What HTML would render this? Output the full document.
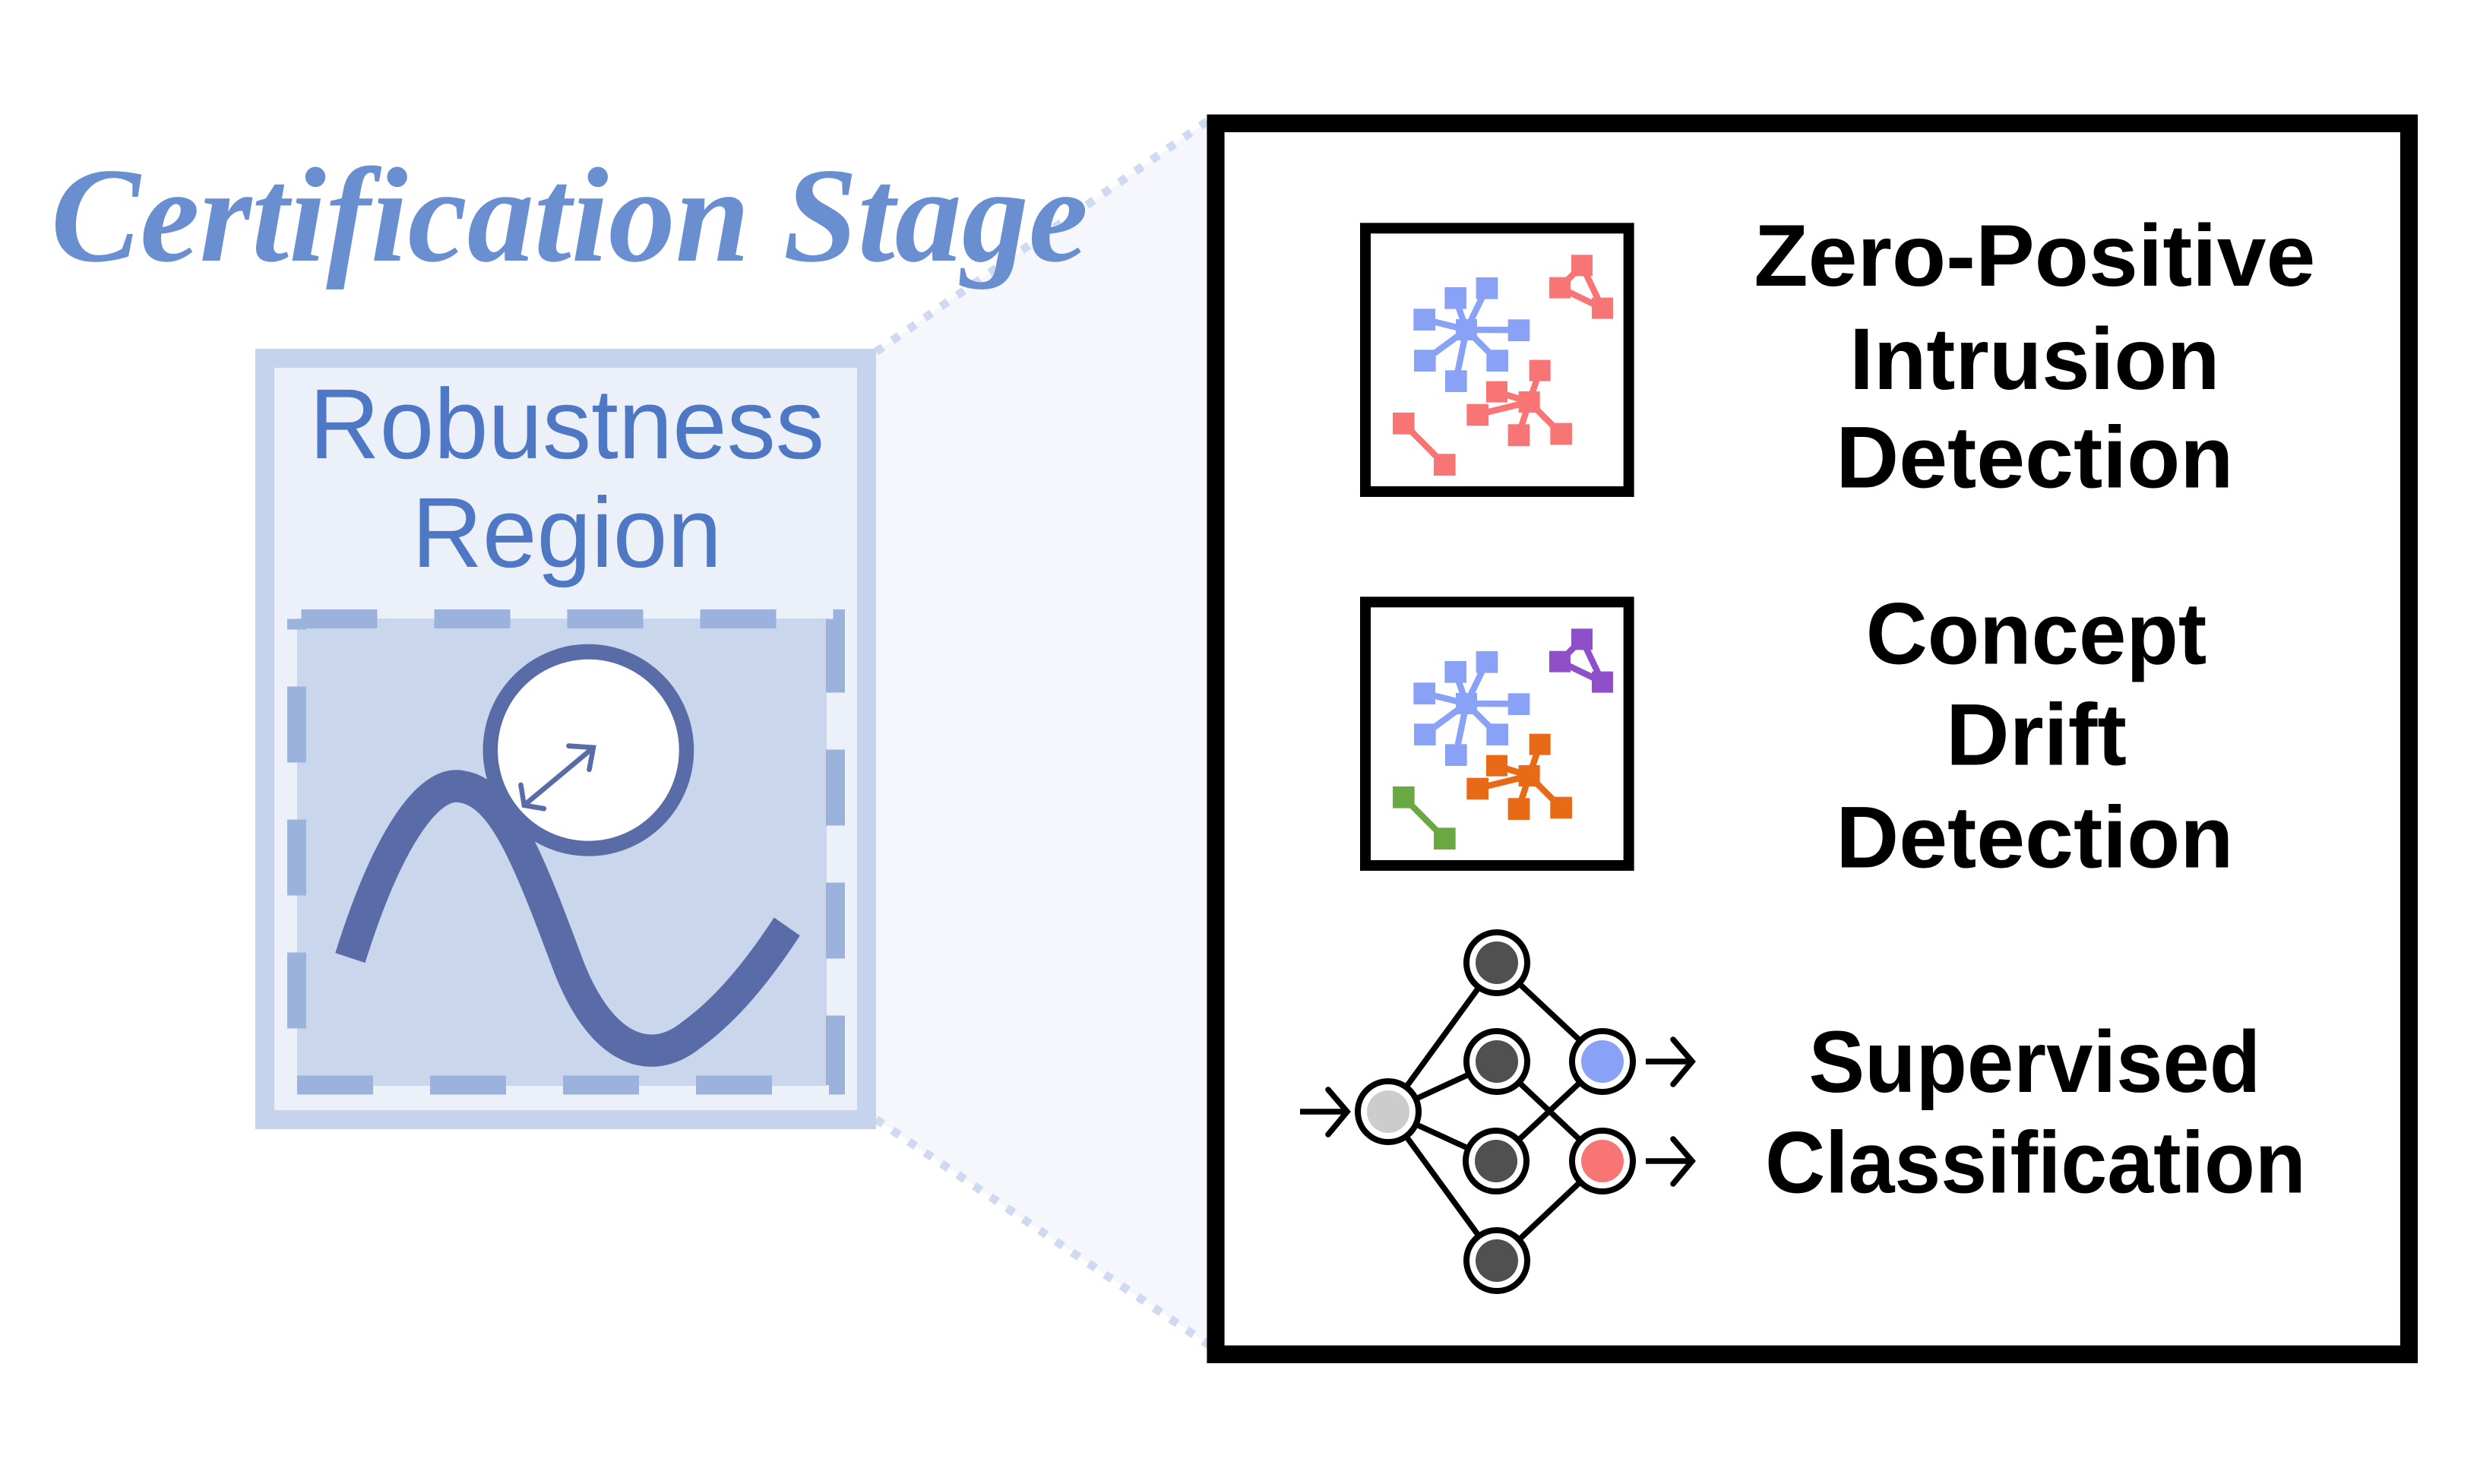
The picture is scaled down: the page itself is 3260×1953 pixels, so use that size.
<!DOCTYPE html>
<html><head><meta charset="utf-8"><style>html,body{margin:0;padding:0;background:#fff}svg{display:block}</style></head>
<body>
<svg width="3260" height="1953" viewBox="0 0 3260 1953" xmlns="http://www.w3.org/2000/svg">
<rect width="3260" height="1953" fill="#fff"/>
<polygon points="1153,463 1594,156 1594,1772 1153,1473" fill="#f5f7fc"/>
<line x1="1153" y1="463" x2="1594" y2="156" stroke="#cfdaf0" stroke-width="11" stroke-dasharray="11 15"/>
<line x1="1153" y1="1473" x2="1594" y2="1772" stroke="#cfdaf0" stroke-width="11" stroke-dasharray="11 15"/>
<text x="67" y="343" font-family="Liberation Serif, serif" font-weight="bold" font-style="italic" font-size="178" fill="#6a8fd0" textLength="1365" lengthAdjust="spacingAndGlyphs">Certification Stage</text>
<rect x="348.5" y="471.5" width="792" height="1002" fill="#ecf0f8" stroke="#c5d3ec" stroke-width="25"/>
<text x="746" y="603" text-anchor="middle" font-family="Liberation Sans, sans-serif" font-size="131" fill="#4f78c4" textLength="678" lengthAdjust="spacingAndGlyphs">Robustness</text>
<text x="746" y="746" text-anchor="middle" font-family="Liberation Sans, sans-serif" font-size="131" fill="#4f78c4" textLength="408" lengthAdjust="spacingAndGlyphs">Region</text>
<rect x="391" y="814" width="697" height="615" fill="#c9d6ec"/>
<rect x="390.5" y="814.5" width="709" height="613.5" fill="none" stroke="#9bb3dc" stroke-width="25" stroke-dasharray="100 75" stroke-dashoffset="-6"/>
<g transform="translate(0,100) scale(1.0846,1.116)">
  <path d="M425,1040 C470,900 520,830 560,838 C610,845 640,920 690,1050 C730,1150 790,1170 840,1130 C890,1095 930,1040 955,1003" fill="none" stroke="#5a6ca8" stroke-width="38"/>
  <ellipse cx="714" cy="795" rx="119" ry="116" fill="#fff" stroke="#5a6ca8" stroke-width="18"/>
  <g stroke="#5a6ca8" stroke-width="6" fill="none" stroke-linecap="round">
    <line x1="636" y1="860" x2="720" y2="792"/>
    <polyline points="690,790 720,792 715,818"/>
    <polyline points="632,836 636,860 660,864"/>
  </g>
</g>
<g transform="translate(1580,140) scale(1.0526,1.063)">
  <rect x="19" y="21" width="1492" height="1524" fill="#fff" stroke="#000" stroke-width="22"/>
  <g font-family="Liberation Sans, sans-serif" font-weight="bold" font-size="108" fill="#000" text-anchor="middle">
    <text x="1043" y="222" textLength="702" lengthAdjust="spacingAndGlyphs">Zero-Positive</text>
    <text x="1043" y="350" textLength="463" lengthAdjust="spacingAndGlyphs">Intrusion</text>
    <text x="1043" y="472" textLength="497" lengthAdjust="spacingAndGlyphs">Detection</text>
    <text x="1045" y="690" textLength="426" lengthAdjust="spacingAndGlyphs">Concept</text>
    <text x="1045" y="815" textLength="226" lengthAdjust="spacingAndGlyphs">Drift</text>
    <text x="1043" y="942" textLength="497" lengthAdjust="spacingAndGlyphs">Detection</text>
    <text x="1043" y="1220" textLength="565" lengthAdjust="spacingAndGlyphs">Supervised</text>
    <text x="1044" y="1345" textLength="676" lengthAdjust="spacingAndGlyphs">Classification</text>
  </g>
</g>
<g transform="translate(1790,290) scale(0.3333)">
  <rect x="21" y="31" width="1040" height="1040" fill="#fff" stroke="#000" stroke-width="42"/>
  <g stroke="#8aa2f5" stroke-width="25"><line x1="420" y1="432" x2="253" y2="391"/><line x1="420" y1="432" x2="376" y2="306"/><line x1="420" y1="432" x2="500" y2="267"/><line x1="420" y1="432" x2="626" y2="433"/><line x1="420" y1="432" x2="541" y2="553"/><line x1="420" y1="432" x2="255" y2="553"/><line x1="420" y1="432" x2="378" y2="634"/></g>
  <g fill="#8aa2f5"><rect x="378" y="390" width="84" height="84"/><rect x="211" y="349" width="86" height="86"/><rect x="334" y="264" width="86" height="86"/><rect x="458" y="225" width="86" height="86"/><rect x="584" y="391" width="86" height="86"/><rect x="499" y="511" width="86" height="86"/><rect x="213" y="511" width="86" height="86"/><rect x="336" y="592" width="86" height="86"/></g>
  <g stroke="#f87575" stroke-width="25" fill="none"><line x1="668" y1="717" x2="540" y2="677"/><line x1="668" y1="717" x2="710" y2="593"/><line x1="668" y1="717" x2="463" y2="767"/><line x1="668" y1="717" x2="626" y2="847"/><line x1="668" y1="717" x2="793" y2="842"/><polygon points="876,178 789,266 957,347"/><line x1="172" y1="802" x2="334" y2="965"/></g>
  <g fill="#f87575"><rect x="626" y="675" width="84" height="84"/><rect x="498" y="635" width="84" height="84"/><rect x="668" y="551" width="84" height="84"/><rect x="421" y="725" width="86" height="86"/><rect x="584" y="805" width="86" height="86"/><rect x="751" y="800" width="86" height="86"/><rect x="834" y="136" width="84" height="84"/><rect x="747" y="224" width="84" height="84"/><rect x="915" y="305" width="84" height="84"/><rect x="129" y="759" width="86" height="86"/><rect x="291" y="922" width="86" height="86"/></g>
</g>
<g transform="translate(1790,782) scale(0.3333)">
  <rect x="21" y="31" width="1040" height="1040" fill="#fff" stroke="#000" stroke-width="42"/>
  <g stroke="#8aa2f5" stroke-width="25"><line x1="420" y1="432" x2="253" y2="391"/><line x1="420" y1="432" x2="376" y2="306"/><line x1="420" y1="432" x2="500" y2="267"/><line x1="420" y1="432" x2="626" y2="433"/><line x1="420" y1="432" x2="541" y2="553"/><line x1="420" y1="432" x2="255" y2="553"/><line x1="420" y1="432" x2="378" y2="634"/></g>
  <g fill="#8aa2f5"><rect x="378" y="390" width="84" height="84"/><rect x="211" y="349" width="86" height="86"/><rect x="334" y="264" width="86" height="86"/><rect x="458" y="225" width="86" height="86"/><rect x="584" y="391" width="86" height="86"/><rect x="499" y="511" width="86" height="86"/><rect x="213" y="511" width="86" height="86"/><rect x="336" y="592" width="86" height="86"/></g>
  <g stroke="#e86a17" stroke-width="25"><line x1="668" y1="717" x2="540" y2="677"/><line x1="668" y1="717" x2="710" y2="593"/><line x1="668" y1="717" x2="463" y2="767"/><line x1="668" y1="717" x2="626" y2="847"/><line x1="668" y1="717" x2="793" y2="842"/></g>
  <g fill="#e86a17"><rect x="626" y="675" width="84" height="84"/><rect x="498" y="635" width="84" height="84"/><rect x="668" y="551" width="84" height="84"/><rect x="421" y="725" width="86" height="86"/><rect x="584" y="805" width="86" height="86"/><rect x="751" y="800" width="86" height="86"/></g>
  <polygon points="876,178 789,266 957,347" fill="none" stroke="#8e4fc8" stroke-width="25"/>
  <g fill="#8e4fc8"><rect x="834" y="136" width="84" height="84"/><rect x="747" y="224" width="84" height="84"/><rect x="915" y="305" width="84" height="84"/></g>
  <line x1="172" y1="802" x2="334" y2="965" stroke="#6aa942" stroke-width="25"/>
  <g fill="#6aa942"><rect x="129" y="759" width="86" height="86"/><rect x="291" y="922" width="86" height="86"/></g>
</g>
<g>
  <g stroke="#000" stroke-width="7.5" fill="none" stroke-linecap="round">
    <line x1="1827" y1="1463" x2="1970" y2="1267"/><line x1="1827" y1="1463" x2="1970" y2="1397"/><line x1="1827" y1="1463" x2="1969" y2="1528"/><line x1="1827" y1="1463" x2="1970" y2="1659"/>
    <line x1="1970" y1="1267" x2="2109" y2="1397"/><line x1="1970" y1="1397" x2="2109" y2="1528"/><line x1="1969" y1="1528" x2="2109" y2="1397"/><line x1="1970" y1="1659" x2="2109" y2="1528"/>
    <line x1="1711" y1="1463" x2="1772" y2="1463" stroke-linecap="butt"/><polyline points="1748,1434 1773,1463 1748,1493"/>
    <line x1="2166" y1="1397" x2="2226" y2="1397" stroke-linecap="butt"/><polyline points="2202,1368 2227,1397 2202,1427"/>
    <line x1="2166" y1="1528" x2="2226" y2="1528" stroke-linecap="butt"/><polyline points="2202,1499 2227,1528 2202,1558"/>
  </g>
  <g stroke="#000" stroke-width="8" fill="#fff">
    <circle cx="1827" cy="1463" r="40"/><circle cx="1970" cy="1267" r="40"/><circle cx="1970" cy="1397" r="40"/><circle cx="1969" cy="1528" r="40"/><circle cx="1970" cy="1659" r="40"/><circle cx="2109" cy="1397" r="40"/><circle cx="2109" cy="1528" r="40"/>
  </g>
  <circle cx="1827" cy="1463" r="28" fill="#cccccc"/>
  <g fill="#505050"><circle cx="1970" cy="1267" r="28"/><circle cx="1970" cy="1397" r="28"/><circle cx="1969" cy="1528" r="28"/><circle cx="1970" cy="1659" r="28"/></g>
  <circle cx="2109" cy="1397" r="28" fill="#8aa2f5"/>
  <circle cx="2109" cy="1528" r="28" fill="#f87575"/>
</g>
</svg>
</body></html>
